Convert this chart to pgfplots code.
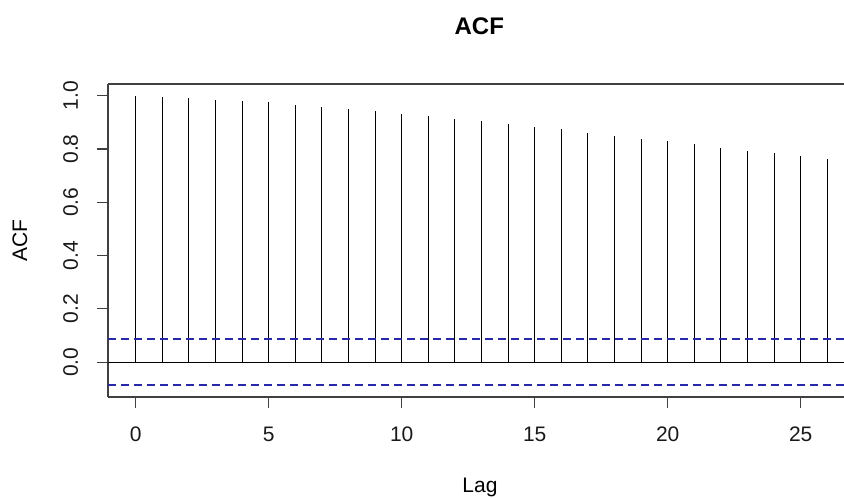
\documentclass[border=0pt]{standalone}
\usepackage{fontspec}
\setmainfont{Liberation Sans}
\usepackage{pgfplots}
\pgfplotsset{compat=1.18}
\definecolor{ciblue}{RGB}{40,40,170}

\begin{document}
\begin{tikzpicture}
% picture is cropped on the right, as in the reference
\useasboundingbox (-54pt,-50pt) rectangle (368pt,198.5pt);
\clip (-54pt,-50pt) rectangle (368pt,198.5pt);
\begin{axis}[at={(0,0)},anchor=south west,scale only axis,
  width=373.5pt,height=156.5pt,
  xmin=-1.04,xmax=27.04,ymin=-0.1305,ymax=1.0435,
  axis x line*=box,axis y line*=left,
  xtick pos=bottom,ytick pos=left,
  axis line style={-,line width=0.6pt,black!75},
  tick style={line width=0.6pt,black!75},
  tick align=outside,major tick length=5.5pt,
  xtick={0,5,...,25},ytick={0,0.2,...,1.0},
  /pgf/number format/assume math mode=true,
  /pgf/number format/fixed,/pgf/number format/fixed zerofill,/pgf/number format/precision=1,
  xticklabel={\pgfmathprintnumber[precision=0,fixed zerofill=false]{\tick}},
  ticklabel style={font=\fontsize{10.5}{12}\selectfont,text=black!90},
  xticklabel shift=6pt,
  yticklabel style={rotate=90,anchor=base},
  yticklabel shift=9.5pt,
  title={\bfseries ACF},
  every axis title/.style={at={(axis description cs:0.497,1.1586)},anchor=base,font=\fontsize{12}{14}\selectfont},
  xlabel={Lag},ylabel={ACF},
  every axis x label/.style={at={(axis description cs:0.498,-0.3067)},anchor=base,font=\fontsize{10.5}{12}\selectfont},
  every axis y label/.style={at={(axis description cs:-0.1084,0.5)},rotate=90,anchor=base,font=\fontsize{10.5}{12}\selectfont},
]
\addplot[ycomb,black,line width=0.55pt,mark=none] coordinates {
(0,1.000) (1,0.995) (2,0.990) (3,0.985) (4,0.981) (5,0.976) (6,0.965)
(7,0.956) (8,0.950) (9,0.941) (10,0.931) (11,0.922) (12,0.913) (13,0.903)
(14,0.893) (15,0.883) (16,0.873) (17,0.858) (18,0.849) (19,0.838) (20,0.829)
(21,0.819) (22,0.804) (23,0.794) (24,0.785) (25,0.775) (26,0.764)};
\addplot[black,line width=0.6pt,mark=none] coordinates {(-1.04,0) (27.04,0)};
\addplot[ciblue,line width=0.85pt,dash pattern=on 4pt off 2.5pt,mark=none] coordinates {(-1.04,0.087) (27.04,0.087)};
\addplot[ciblue,line width=0.85pt,dash pattern=on 4pt off 2.5pt,mark=none] coordinates {(-1.04,-0.085) (27.04,-0.085)};
\end{axis}
\end{tikzpicture}
\end{document}
